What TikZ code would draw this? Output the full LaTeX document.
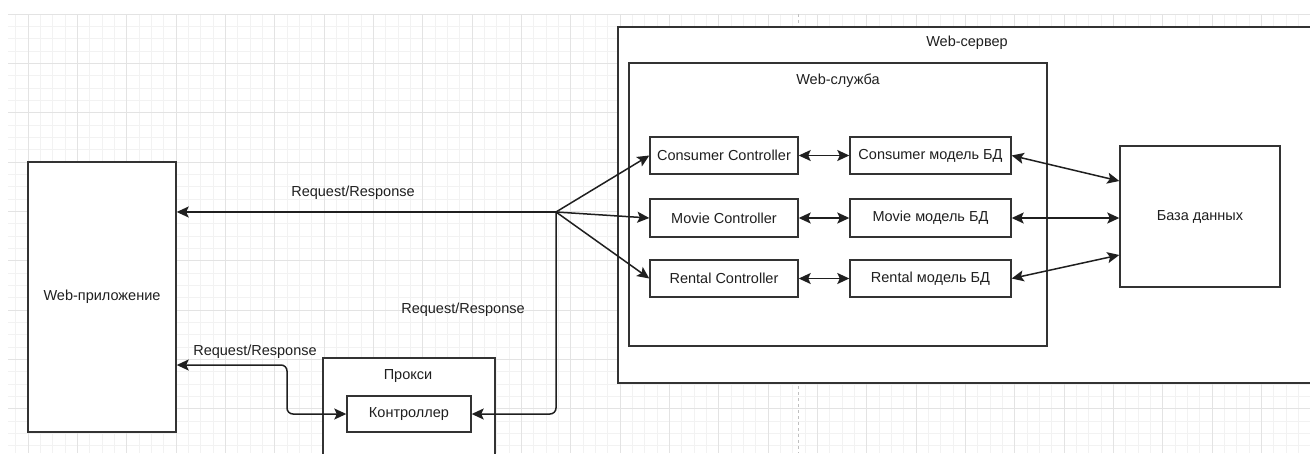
\documentclass[tikz,border=0pt]{standalone}
\usepackage{fontspec}
\setmainfont{Liberation Sans}
\usetikzlibrary{arrows.meta,calc}
\begin{document}
\begin{tikzpicture}[x=1pt,y=-1pt,
  box/.style={draw=black!80,line width=1.4pt,fill=white,inner sep=0pt,
    font=\fontsize{14.5}{17}\selectfont,text=black!88},
  lbl/.style={inner sep=0pt,font=\fontsize{14.5}{17}\selectfont,text=black!88},
  conn/.style={draw=black!88,line width=1.5pt},
  arr/.style={conn,-{Stealth[length=12pt,width=11pt,inset=2.5pt]}},
  arrr/.style={conn,{Stealth[length=12pt,width=11pt,inset=2.5pt]}-{Stealth[length=12pt,width=11pt,inset=2.5pt]}},
  gminor/.style={draw=black!5,line width=0.8pt},
  gmajor/.style={draw=black!11,line width=1pt}]
\useasboundingbox (0,0) rectangle (1310,453);
\clip (0,0) rectangle (1310,453);
% grid
\begin{scope}
\clip (8,14) rectangle (1310,453);
\foreach \i in {0,...,106} {\draw[gminor] ({3.34+12.333*\i},0) -- ({3.34+12.333*\i},453);}
\foreach \i in {0,...,37} {\draw[gminor] (0,{14+12.333*\i}) -- (1310,{14+12.333*\i});}
\foreach \i in {0,...,26} {\draw[gmajor] ({28+49.333*\i},0) -- ({28+49.333*\i},453);}
\foreach \i in {0,...,9} {\draw[gmajor] (0,{14+49.333*\i}) -- (1310,{14+49.333*\i});}
\draw[draw=black!25,dashed,line width=0.9pt] (798,14) -- (798,453);
\end{scope}
% server and service
\node[box,minimum width=702pt,minimum height=356pt] (server) at (969,205) {};
\node[lbl] (serverlbl) at (967,43) {Web-сервер};
\node[box,minimum width=418pt,minimum height=283pt] (service) at (838,204.5) {};
\node[lbl] (servicelbl) at (838,81) {Web-служба};
% controllers and models
\node[box,minimum width=148pt,minimum height=37pt] (cc) at (724,155.5) {Consumer Controller};
\node[box,minimum width=161pt,minimum height=37pt] (cm) at (930.5,155.5) {Consumer модель БД};
\node[box,minimum width=148pt,minimum height=38pt] (mc) at (724,218) {Movie Controller};
\node[box,minimum width=161pt,minimum height=38pt] (mm) at (930.5,218) {Movie модель БД};
\node[box,minimum width=148pt,minimum height=37pt] (rc) at (724,278.5) {Rental Controller};
\node[box,minimum width=161pt,minimum height=37pt] (rm) at (930.5,278.5) {Rental модель БД};
% database
\node[box,minimum width=160pt,minimum height=141pt] (db) at (1200,216.5) {База данных};
% web app
\node[box,minimum width=148pt,minimum height=270pt] (app) at (102,297) {Web-приложение};
% proxy
\node[box,minimum width=172pt,minimum height=120pt] (proxy) at (409,418) {};
\node[lbl] (proxylbl) at (408,376) {Прокси};
\node[box,minimum width=124pt,minimum height=36pt] (ctrl) at (409,414) {Контроллер};
% connectors
\coordinate (fan) at (556,212);
\coordinate (bend) at (287,365);
\draw[arr] (fan) -- (fan -| app.east);
\draw[arr] (fan) -- (cc.west);
\draw[arr] (fan) -- (mc.west);
\draw[arr] (fan) -- (rc.west);
\draw[arrr] (cc.east) -- (cm.west);
\draw[arrr] (mc.east) -- (mm.west);
\draw[arrr] (rc.east) -- (rm.west);
\draw[arrr] (cm.east) -- ($(db.west)+(0,-35.5)$);
\draw[arrr] (mm.east) -- (mm.east -| db.west);
\draw[arrr] (rm.east) -- ($(db.west)+(0,38.5)$);
\draw[arr,rounded corners=6pt] (fan) -- (fan |- ctrl.east) -- (ctrl.east);
\draw[arrr,rounded corners=6pt] (ctrl.west) -| (bend) -- (bend -| app.east);
% labels
\node[lbl] (rr1) at (353,193) {Request/Response};
\node[lbl] (rr2) at (463,310) {Request/Response};
\node[lbl] (rr3) at (255,352) {Request/Response};
\end{tikzpicture}
\end{document}
